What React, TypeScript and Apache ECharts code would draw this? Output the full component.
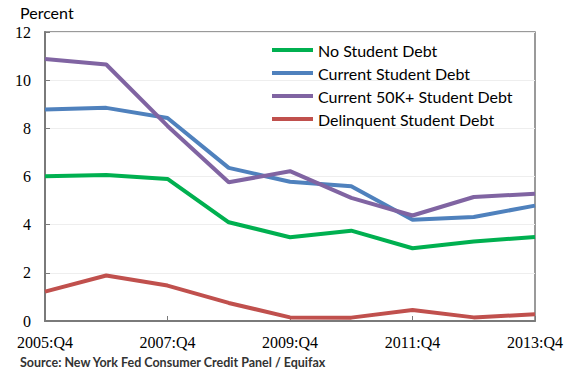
import React, { useEffect, useRef } from "react";
import * as echarts from "echarts";

const categories = ["2005:Q4", "2006:Q4", "2007:Q4", "2008:Q4", "2009:Q4", "2010:Q4", "2011:Q4", "2012:Q4", "2013:Q4"];
const noStudentDebt = [6.01, 6.06, 5.9, 4.1, 3.48, 3.75, 3.02, 3.3, 3.49];
const currentStudentDebt = [8.78, 8.85, 8.43, 6.36, 5.78, 5.6, 4.2, 4.32, 4.79];
const current50kDebt = [10.88, 10.65, 8.1, 5.76, 6.22, 5.11, 4.38, 5.15, 5.28];
const delinquentDebt = [1.22, 1.89, 1.47, 0.75, 0.15, 0.14, 0.46, 0.15, 0.28];
const seriesNames = ["No Student Debt", "Current Student Debt", "Current 50K+ Student Debt", "Delinquent Student Debt"];
const colors = ["#00B050", "#4F81BD", "#8064A2", "#C0504D"];

export default function App() {
  const ref = useRef<HTMLDivElement>(null);
  useEffect(() => {
    if (!ref.current) return;
    const chart = echarts.init(ref.current, null, { renderer: "svg" });
    const data = [noStudentDebt, currentStudentDebt, current50kDebt, delinquentDebt];
    chart.setOption({
      animation: false,
      backgroundColor: "#fff",
      textStyle: { fontFamily: "Lato" },
      grid: {
        left: 45,
        right: 38,
        top: 32,
        bottom: 57,
        show: true,
        borderColor: "#7a7a7a",
        borderWidth: 1.5,
      },
      legend: {
        orient: "vertical",
        left: 272,
        top: 41,
        padding: 0,
        itemWidth: 41,
        itemHeight: 4,
        itemGap: 5,
        icon: "rect",
        data: seriesNames,
        textStyle: { fontSize: 16, color: "#000", lineHeight: 18, fontFamily: "Lato", padding: [0, 0, 0, 0] },
      },
      graphic: [
        {
          type: "text",
          left: 20,
          top: 4,
          style: { text: "Percent", fontSize: 16, fill: "#000", fontFamily: "Lato" },
        },
        {
          type: "text",
          left: 20,
          top: 356,
          style: {
            text: "Source: New York Fed Consumer Credit Panel / Equifax",
            fontSize: 12.5,
            fontWeight: "bold",
            fill: "#333",
            fontFamily: "Lato",
          },
        },
      ],
      xAxis: {
        type: "category",
        data: categories,
        boundaryGap: false,
        axisLine: { lineStyle: { color: "#7a7a7a", width: 2 } },
        axisTick: { inside: true, interval: 1, length: 5, lineStyle: { color: "#7a7a7a" } },
        axisLabel: { interval: 1, fontSize: 16, color: "#000", margin: 13, fontFamily: "Liberation Serif" },
        splitLine: { show: false },
      },
      yAxis: {
        type: "value",
        min: 0,
        max: 12,
        interval: 2,
        axisLine: { show: true, lineStyle: { color: "#7a7a7a", width: 2 } },
        axisTick: { show: true, inside: true, length: 5, lineStyle: { color: "#7a7a7a" } },
        axisLabel: { fontSize: 16, color: "#000", margin: 14, fontFamily: "Liberation Serif" },
        splitLine: { show: true, lineStyle: { color: "#eeeeee", width: 1 } },
      },
      series: seriesNames.map((name, i) => ({
        name,
        type: "line",
        data: data[i],
        symbol: "none",
        color: colors[i],
        lineStyle: { width: 4, color: colors[i] },
      })),
    });
    return () => chart.dispose();
  }, []);
  return <div ref={ref} style={{ width: 573, height: 378, position: "absolute", left: 0, top: 0 }} />;
}
